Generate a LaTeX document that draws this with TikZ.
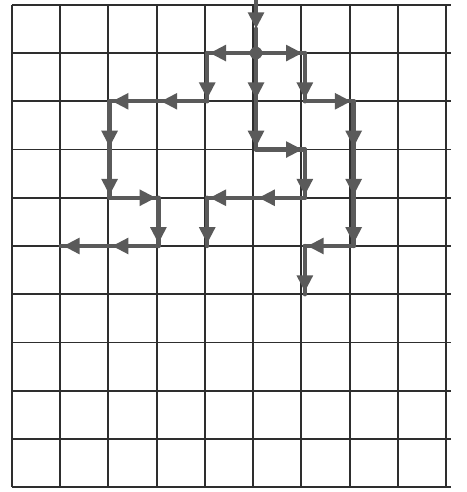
\documentclass[tikz,border=0pt]{standalone}
\usepackage{xcolor}
\usepackage{tikz}
\usetikzlibrary{arrows.meta,decorations.markings}
\definecolor{gridGray}{HTML}{2E2E2E}
\definecolor{flowGray}{HTML}{5A5A5A}
\tikzset{
  cell/.style={line width=1.1pt, draw=gridGray},
  flowline/.style={line width=2.6pt, draw=flowGray, line cap=round},
  flow/.style={flowline, postaction={decorate},
    decoration={markings, mark=at position -0.05cm with {\arrow[flowGray]{Triangle[length=3.4mm,width=3.2mm]}}}},
  hub/.style={circle, fill=flowGray, inner sep=0pt, minimum size=2.6mm},
}
\begin{document}
\begin{tikzpicture}[x=1.012cm, y=1cm]
\useasboundingbox[fill=white] (-0.245,-0.1) rectangle (9.312,10.1);
% grid points, row j counted from the top
\foreach \i in {0,...,9}
  \foreach \j in {0,...,10}
    \coordinate (p\i-\j) at (\i,10-\j);
\coordinate (in) at (5,10.12);
\path (in) -- (p5-1) coordinate[pos=0.55] (inmid);
\draw[cell] (p0-10) grid (p9-0);
% incoming line
\draw[flowline, -{Triangle[length=3.4mm,width=3.2mm]}] (in) -- (inmid);
\draw[flowline] (inmid) -- (p5-1);
% first row
\draw[flow] (p5-1) -- (p4-1);
\draw[flow] (p5-1) -- (p6-1);
\draw[flow] (p4-1) -- (p4-2);
\draw[flow] (p5-1) -- (p5-2);
\draw[flow] (p6-1) -- (p6-2);
% second row
\draw[flow] (p4-2) -- (p3-2);
\draw[flow] (p3-2) -- (p2-2);
\draw[flow] (p6-2) -- (p7-2);
\draw[flow] (p2-2) -- (p2-3);
\draw[flow] (p5-2) -- (p5-3);
\draw[flow] (p7-2) -- (p7-3);
% third row
\draw[flow] (p5-3) -- (p6-3);
\draw[flow] (p2-3) -- (p2-4);
\draw[flow] (p6-3) -- (p6-4);
\draw[flow] (p7-3) -- (p7-4);
% fourth row
\draw[flow] (p2-4) -- (p3-4);
\draw[flow] (p6-4) -- (p5-4);
\draw[flow] (p5-4) -- (p4-4);
\draw[flow] (p3-4) -- (p3-5);
\draw[flow] (p4-4) -- (p4-5);
\draw[flow] (p7-4) -- (p7-5);
% fifth row
\draw[flow] (p3-5) -- (p2-5);
\draw[flow] (p2-5) -- (p1-5);
\draw[flow] (p7-5) -- (p6-5);
\draw[flow] (p6-5) -- (p6-6);
% branching point
\node[hub] (split) at (p5-1) {};
\end{tikzpicture}
\end{document}
